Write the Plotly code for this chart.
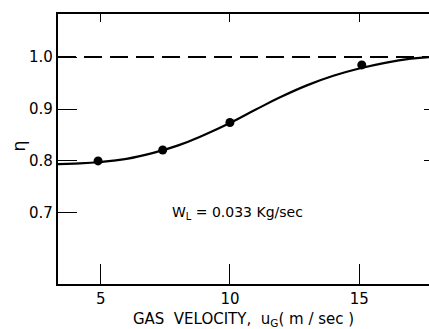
import plotly.graph_objects as go

# Measured points
pt_x = [4.9, 7.4, 10.0, 15.1]
pt_y = [0.800, 0.821, 0.874, 0.985]

# Smooth fitted curve
curve_x = [3.35, 4, 5, 6, 7, 8, 9, 10, 11, 12, 13, 14, 15, 16, 17, 17.7]
curve_y = [0.794, 0.795, 0.798, 0.804, 0.815, 0.830, 0.850, 0.873, 0.899, 0.924, 0.946, 0.964, 0.978, 0.989, 0.997, 1.0]

ref_x = [3.35, 17.7]
ref_y = [1.0, 1.0]

x_ticks = [5, 10, 15]
x_tick_labels = ["5", "10", "15"]
y_ticks = [0.7, 0.8, 0.9, 1.0]
y_tick_labels = ["0.7", "0.8", "0.9", "1.0"]

FONT = "DejaVu Sans"

fig = go.Figure()
fig.add_trace(go.Scatter(x=ref_x, y=ref_y, mode="lines",
                         line=dict(color="black", width=2, dash="18px,8px"),
                         showlegend=False, hoverinfo="skip"))
fig.add_trace(go.Scatter(x=curve_x, y=curve_y, mode="lines",
                         line=dict(color="black", width=2.2, shape="spline", smoothing=1.3),
                         showlegend=False))
fig.add_trace(go.Scatter(x=pt_x, y=pt_y, mode="markers",
                         marker=dict(color="black", size=9),
                         showlegend=False))
# invisible trace for secondary axes
fig.add_trace(go.Scatter(x=[None], y=[None], xaxis="x2", yaxis="y2", showlegend=False))

fig.update_layout(
    width=429, height=329,
    margin=dict(l=58, r=0, t=14, b=45),
    plot_bgcolor="white", paper_bgcolor="white",
    font=dict(family=FONT, size=14, color="black"),
    xaxis=dict(range=[3.35, 17.7], tickvals=x_ticks, ticktext=x_tick_labels,
               ticks="inside", ticklen=20, tickwidth=1.2, tickcolor="black",
               showline=True, linecolor="black", linewidth=2.2, mirror=True,
               showgrid=False, zeroline=False, tickfont=dict(size=15),
               title=dict(text="GAS  VELOCITY,  u<sub>G</sub>( m / sec )", standoff=7,
                          font=dict(size=15))),
    yaxis=dict(range=[0.563, 1.083], tickvals=y_ticks, ticktext=y_tick_labels,
               ticks="inside", ticklen=19, tickwidth=1.2, tickcolor="black",
               showline=True, linecolor="black", linewidth=2.2,
               showgrid=False, zeroline=False, tickfont=dict(size=15)),
    xaxis2=dict(range=[3.35, 17.7], overlaying="x", side="top", anchor="y",
                tickvals=x_ticks, showticklabels=False, ticks="inside", ticklen=8,
                tickcolor="black", tickwidth=1.2, showgrid=False, zeroline=False),
    yaxis2=dict(range=[0.563, 1.083], overlaying="y", side="right", anchor="x",
                tickvals=[0.8, 0.9], showticklabels=False, ticks="inside", ticklen=5,
                tickcolor="black", tickwidth=1.2, showgrid=False, zeroline=False),
    annotations=[
        dict(text="W<sub>L</sub> = 0.033 Kg/sec", x=7.7, y=0.7, xref="x", yref="y",
             xanchor="left", yanchor="middle", showarrow=False, font=dict(size=14)),
        dict(text="η", x=-0.14, y=0.51, xref="paper", yref="paper", showarrow=False,
             textangle=-90, font=dict(size=18)),
    ],
)

fig.write_html("out.html")
